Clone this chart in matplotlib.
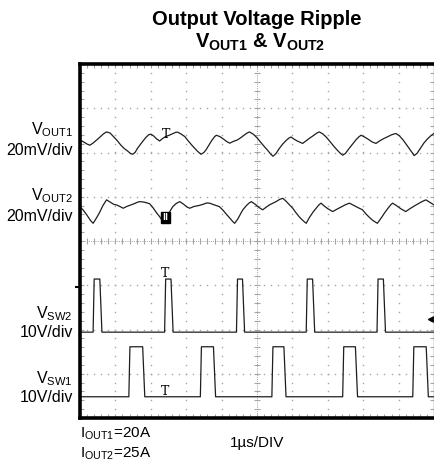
import numpy as np
import matplotlib.pyplot as plt

plt.rcParams['font.family'] = ['Liberation Sans', 'DejaVu Sans']
plt.rcParams['mathtext.fontset'] = 'custom'
plt.rcParams['mathtext.rm'] = 'Liberation Sans'
plt.rcParams['mathtext.it'] = 'Liberation Sans:italic'
plt.rcParams['mathtext.bf'] = 'Liberation Sans:bold'

# time in us (1us/div), ripple in mV (20mV/div), switch nodes in V (10V/div)
vout1_t = [0.00, 0.10, 0.20, 0.28, 0.38, 0.48, 0.58, 0.66, 0.75, 0.85, 0.95, 1.05,
           1.15, 1.25, 1.35, 1.42, 1.49, 1.56, 1.62, 1.69, 1.78, 1.86, 1.94, 2.00,
           2.08, 2.16, 2.25, 2.33, 2.42, 2.52, 2.62, 2.70, 2.76, 2.86, 2.96, 3.06,
           3.16, 3.24, 3.33, 3.42, 3.50, 3.56, 3.64, 3.72, 3.80, 3.85, 3.95, 4.05,
           4.14, 4.23, 4.33, 4.45, 4.55, 4.65, 4.72, 4.79, 4.90, 5.01, 5.10, 5.20,
           5.30, 5.38, 5.45, 5.53, 5.62, 5.72, 5.82, 5.90, 5.96, 6.05, 6.15, 6.29,
           6.38, 6.48, 6.58, 6.68, 6.76, 6.86, 6.96, 7.06, 7.16, 7.26, 7.35, 7.42,
           7.50, 7.60, 7.70, 7.80, 7.88, 7.94, 8.04, 8.14, 8.25, 8.36, 8.46, 8.58,
           8.70, 8.80, 8.92, 9.02, 9.12, 9.22, 9.30, 9.38, 9.44, 9.52, 9.62, 9.72,
           9.82, 9.92, 10.00]
vout1_mv = [1.4, 0.6, -0.4, -0.9, 0.2, 1.6, 3.0, 4.2, 5.1, 4.6, 2.9, 1.2,
            -0.8, -2.4, -3.6, -4.6, -5.0, -4.1, -2.4, -0.9, 1.0, 2.6, 3.8, 4.1,
            3.3, 2.0, 1.0, 2.1, 3.0, 3.6, 4.3, 4.9, 5.0, 4.1, 3.0, 1.0,
            -0.9, -2.3, -3.8, -5.0, -4.2, -3.0, -0.9, 1.2, 2.9, 3.6, 3.0, 1.9,
            0.8, 0.0, 0.8, 1.5, 2.6, 3.8, 4.6, 5.1, 4.0, 2.3, 0.5, -1.4,
            -3.2, -4.8, -5.9, -4.8, -2.6, -0.5, 1.2, 2.3, 2.8, 1.8, 0.9, -0.1,
            1.0, 2.2, 3.3, 4.5, 5.1, 4.2, 2.7, 0.8, -1.2, -3.0, -4.5, -5.4,
            -4.6, -2.4, -0.4, 1.6, 2.9, 3.6, 2.8, 1.8, 0.6, -0.1, 1.0, 2.1,
            3.0, 3.8, 4.4, 3.4, 1.6, -0.6, -2.4, -4.2, -5.6, -4.6, -2.2, 0.2,
            2.0, 3.5, 4.4]

vout2_t = [0.00, 0.10, 0.20, 0.30, 0.37, 0.45, 0.55, 0.65, 0.75, 0.85, 0.95, 1.05,
           1.15, 1.22, 1.32, 1.42, 1.52, 1.62, 1.69, 1.80, 1.90, 1.97, 2.06, 2.15,
           2.25, 2.32, 2.37, 2.45, 2.54, 2.62, 2.72, 2.82, 2.92, 3.02, 3.10, 3.22,
           3.35, 3.48, 3.58, 3.66, 3.78, 3.87, 3.94, 4.04, 4.14, 4.24, 4.32, 4.37,
           4.46, 4.54, 4.60, 4.70, 4.78, 4.84, 4.94, 5.05, 5.16, 5.26, 5.36, 5.45,
           5.55, 5.64, 5.73, 5.82, 5.92, 6.01, 6.10, 6.20, 6.30, 6.39, 6.48, 6.58,
           6.68, 6.76, 6.81, 6.90, 7.00, 7.14, 7.26, 7.38, 7.50, 7.61, 7.72, 7.84,
           7.98, 8.08, 8.18, 8.28, 8.40, 8.50, 8.60, 8.70, 8.78, 8.83, 8.94, 9.06,
           9.20, 9.32, 9.44, 9.56, 9.66, 9.77, 9.88, 10.00]
vout2_mv = [1.9, 0.2, -2.0, -4.4, -5.6, -3.6, -0.8, 2.5, 5.0, 4.0, 3.0, 2.6,
            1.8, 1.2, 2.0, 2.6, 3.2, 3.9, 4.2, 4.0, 3.6, 3.2, 1.5, -0.6,
            -2.6, -4.3, -5.0, -2.8, -0.2, 1.9, 3.4, 4.2, 3.1, 1.8, 1.2, 2.0,
            2.4, 3.0, 3.6, 3.5, 2.8, 2.3, 1.9, 0.3, -1.6, -3.4, -4.9, -5.6,
            -3.6, -1.2, 0.5, 2.4, 3.6, 4.2, 3.1, 1.6, 0.5, 1.7, 2.8, 3.5,
            4.3, 5.2, 5.7, 4.4, 2.7, 1.2, -0.8, -2.8, -4.4, -5.6, -3.0, -0.6,
            1.4, 2.9, 3.5, 2.2, 1.0, -0.3, 0.8, 1.8, 2.8, 3.5, 2.6, 1.6,
            0.5, -1.4, -3.0, -4.4, -5.6, -3.4, -1.0, 1.2, 2.8, 3.5, 2.4, 1.0,
            -0.3, 1.0, 2.2, 3.3, 4.2, 5.0, 3.9, 2.7]

vsw2_on = [0.37, 2.39, 4.42, 6.39, 8.39]
vsw2_off = [0.62, 2.63, 4.65, 6.63, 8.63]
vsw2_high = 12.0

vsw1_on = [1.38, 3.40, 5.42, 7.42, 9.40]
vsw1_off = [1.83, 3.83, 5.82, 7.84, 9.84]
vsw1_high = 11.3


def pulse_trace(on, off, high):
    t = [0.0]
    v = [0.0]
    for a, b in zip(on, off):
        t += [a, a + 0.03, b - 0.06, b]
        v += [0.0, high, high, 0.0]
    t.append(10.0)
    v.append(0.0)
    return np.array(t), np.array(v)


W, H = 435, 467


def fx(x):
    return x / W


def fy(y):
    return 1 - y / H


fig = plt.figure(figsize=(W / 100, H / 100), dpi=100)
ax = fig.add_axes([fx(80), fy(418), 354 / W, 354 / H])
ax.set_xlim(0, 10)
ax.set_ylim(0, 8)

# graticule
gc = '#a4a4a4'
minor = np.arange(0.2, 10, 0.2)
minor_y = np.arange(0.2, 8, 0.2)
for xi in range(1, 10):
    if xi == 5:
        continue
    ax.plot([xi] * len(minor_y), minor_y, ls='none', marker='s', ms=1.0, mew=0, color=gc)
for yi in range(1, 8):
    if yi == 4:
        continue
    ax.plot(minor, [yi] * len(minor), ls='none', marker='s', ms=1.0, mew=0, color=gc)
ax.axvline(5, ls=(0, (1, 1.2)), lw=0.7, color=gc)
ax.axhline(4, ls=(0, (1, 1.2)), lw=0.7, color=gc)
ax.plot([5] * len(minor_y), minor_y, ls='none', marker='_', ms=4, mew=0.8, color=gc)
ax.plot(minor, [4] * len(minor), ls='none', marker='|', ms=4, mew=0.8, color=gc)

ax.set_xticks(np.arange(0, 10.01, 0.2))
ax.set_yticks(np.arange(0, 8.01, 0.2))
ax.tick_params(direction='in', length=3, width=0.8, color=gc, top=True, right=True,
               labelbottom=False, labelleft=False)
for s in ['left', 'top', 'bottom']:
    ax.spines[s].set_linewidth(2.6)
    ax.spines[s].set_color('black')
ax.spines['right'].set_linewidth(1.0)
ax.spines['right'].set_color('#777777')

tc = '#1e1e1e'
ax.plot(vout1_t, 6.21 + np.array(vout1_mv) / 20, color=tc, lw=0.9)
ax.plot(vout2_t, 4.68 + np.array(vout2_mv) / 20, color=tc, lw=0.9)
t2, v2 = pulse_trace(vsw2_on, vsw2_off, vsw2_high)
ax.plot(t2, 1.94 + v2 / 10, color=tc, lw=0.9)
t1, v1 = pulse_trace(vsw1_on, vsw1_off, vsw1_high)
ax.plot(t1, 0.48 + v1 / 10, color=tc, lw=0.9)

# channel / trigger markers
mk = dict(ha='center', va='bottom', fontsize=9, family='DejaVu Serif', color='black')
ax.text(2.42, 6.26, 'T', **mk)
ax.text(2.41, 3.11, 'T', **mk)
ax.text(2.41, 0.46, 'T', **mk)
ax.text(2.42, 4.53, 'II', ha='center', va='center', fontsize=6, fontweight='bold',
        color='white', family='DejaVu Sans',
        bbox=dict(boxstyle='square,pad=0.15', fc='black', ec='black'))
ax.plot([9.93], [2.24], marker='<', ms=6, color='black', clip_on=False)
ax.plot([-0.06], [2.96], marker='_', ms=5, mew=1.5, color='black', clip_on=False)

# titles
fig.text(fx(257), fy(25), 'Output Voltage Ripple', ha='center', va='baseline',
         fontsize=14.5, fontweight='bold')
fig.text(fx(260), fy(48), r'$\mathbf{V_{OUT1}}$ & $\mathbf{V_{OUT2}}$', ha='center',
         va='baseline', fontsize=14.5, fontweight='bold')

# channel labels
lab = dict(ha='right', va='baseline', fontsize=11.5)
fig.text(fx(73), fy(134), r'$\mathrm{V_{OUT1}}$', **lab)
fig.text(fx(73), fy(155), '20mV/div', **lab)
fig.text(fx(73), fy(200), r'$\mathrm{V_{OUT2}}$', **lab)
fig.text(fx(73), fy(221), '20mV/div', **lab)
fig.text(fx(73), fy(318), r'$\mathrm{V_{SW2}}$', **lab)
fig.text(fx(73), fy(337), '10V/div', **lab)
fig.text(fx(73), fy(383), r'$\mathrm{V_{SW1}}$', **lab)
fig.text(fx(73), fy(402), '10V/div', **lab)

fig.text(fx(80), fy(438), r'$\mathrm{I_{OUT1}}$=20A', ha='left', va='baseline', fontsize=11)
fig.text(fx(80), fy(458), r'$\mathrm{I_{OUT2}}$=25A', ha='left', va='baseline', fontsize=11)
fig.text(fx(230), fy(447), '1µs/DIV', ha='left', va='baseline', fontsize=11)

fig.savefig('out.png', dpi=100)
